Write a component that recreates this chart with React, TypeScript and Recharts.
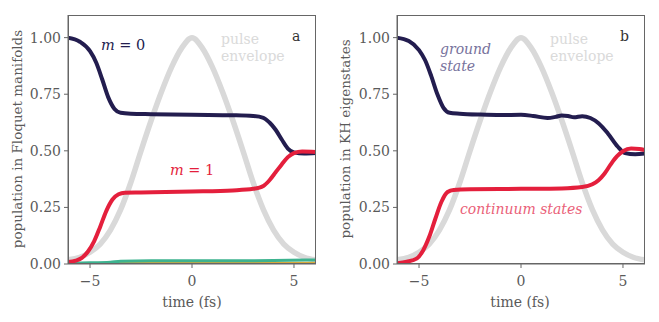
import React from 'react';
import { LineChart, Line, XAxis, YAxis } from 'recharts';

type Pt = [number, number];

// pulse envelope (same on both panels)
const envelope: Pt[] = [
  [-6.1, 0.018], [-5.5, 0.03], [-5, 0.052], [-4.5, 0.088], [-4, 0.15], [-3.5, 0.24],
  [-3, 0.36], [-2.5, 0.5], [-2, 0.635], [-1.5, 0.76], [-1, 0.87], [-0.5, 0.955], [0, 1.0],
  [0.5, 0.955], [1, 0.87], [1.5, 0.76], [2, 0.635], [2.5, 0.5], [3, 0.36], [3.5, 0.24],
  [4, 0.15], [4.5, 0.088], [5, 0.052], [5.5, 0.03], [6.1, 0.018],
];

// panel a: Floquet manifolds
const floquetM0: Pt[] = [
  [-6.1, 1.0], [-5.5, 0.982], [-5.0, 0.94], [-4.7, 0.89], [-4.4, 0.815], [-4.1, 0.735],
  [-3.8, 0.685], [-3.5, 0.668], [-3.0, 0.664], [-2, 0.662], [0, 0.659], [2, 0.657],
  [3.0, 0.654], [3.5, 0.646], [3.8, 0.625], [4.1, 0.593], [4.4, 0.55], [4.7, 0.51],
  [5.0, 0.493], [5.5, 0.488], [6.1, 0.49],
];
const floquetM1: Pt[] = [
  [-6.1, 0.008], [-5.7, 0.015], [-5.4, 0.027], [-5.1, 0.055], [-4.8, 0.1], [-4.5, 0.165],
  [-4.2, 0.235], [-3.9, 0.285], [-3.6, 0.308], [-3.3, 0.315], [-2.5, 0.316], [0, 0.32],
  [2, 0.325], [3.0, 0.332], [3.5, 0.345], [3.8, 0.37], [4.1, 0.405], [4.4, 0.44],
  [4.7, 0.472], [5.0, 0.49], [5.4, 0.497], [6.1, 0.495],
];
const floquetM2: Pt[] = [
  [-6.1, 0.004], [-5, 0.005], [-4, 0.008], [-3.5, 0.012], [-2, 0.014], [0, 0.014],
  [2, 0.014], [4, 0.015], [6.1, 0.018],
];
const floquetM3: Pt[] = [[-6.1, 0.003], [0, 0.003], [6.1, 0.004]];

// panel b: KH eigenstates
const groundState: Pt[] = [
  [-6.1, 1.0], [-5.5, 0.985], [-5.0, 0.945], [-4.7, 0.9], [-4.4, 0.83], [-4.1, 0.75],
  [-3.8, 0.69], [-3.5, 0.668], [-3.0, 0.664], [-2, 0.66], [-1, 0.658], [0, 0.659],
  [0.6, 0.654], [1.3, 0.645], [1.7, 0.65], [2.0, 0.656], [2.3, 0.654], [2.6, 0.648],
  [3.0, 0.653], [3.4, 0.645], [3.8, 0.622], [4.25, 0.578], [4.75, 0.518], [5.1, 0.49],
  [5.6, 0.485], [6.1, 0.489],
];
const continuumStates: Pt[] = [
  [-6.1, 0.003], [-5.6, 0.01], [-5.1, 0.025], [-4.8, 0.06], [-4.5, 0.12], [-4.2, 0.2],
  [-3.9, 0.275], [-3.6, 0.318], [-3.3, 0.327], [-2.5, 0.33], [0, 0.332], [2, 0.334],
  [3.0, 0.34], [3.5, 0.352], [3.8, 0.37], [4.1, 0.4], [4.4, 0.44], [4.7, 0.475],
  [5.0, 0.498], [5.4, 0.51], [5.8, 0.508], [6.1, 0.503],
];

const xTicks = [-5, 0, 5];
const yTicks = [0, 0.25, 0.5, 0.75, 1.0];

const FONT = '"DejaVu Serif", serif';
const NAVY = '#231d4f';
const RED = '#e41f3c';
const GREY = '#d9d9d9';
const AXIS = '#666';
const LABEL = '#5a5a5a';

const toRows = (pts: Pt[]) => pts.map(([t, v]) => ({ t, v }));

type Series = { data: Pt[]; color: string; width: number };

const tickStyle = { fill: LABEL, fontSize: 14, fontFamily: FONT };

const Panel = ({ series }: { series: Series[] }) => (
  <div style={{ position: 'relative', width: 330, height: 322, fontFamily: FONT }}>
    <LineChart width={330} height={322} margin={{ top: 15, right: 14, bottom: 18, left: 0 }} style={{ fontFamily: FONT }}>
      <XAxis
        dataKey="t"
        type="number"
        domain={[-6.08, 6.08]}
        allowDataOverflow
        ticks={xTicks}
        tickFormatter={(v: number) => (v < 0 ? `\u2212${-v}` : `${v}`)}
        height={40}
        stroke={AXIS}
        tickSize={4}
        tickMargin={8}
        tick={tickStyle}
      />
      <YAxis
        type="number"
        domain={[0, 1.1]}
        allowDataOverflow
        ticks={yTicks}
        tickFormatter={(v: number) => v.toFixed(2)}
        width={68}
        stroke={AXIS}
        tickSize={4}
        tickMargin={3}
        tick={tickStyle}
      />
      {series.map((s, i) => (
        <Line
          key={i}
          data={toRows(s.data)}
          dataKey="v"
          type="monotone"
          stroke={s.color}
          strokeWidth={s.width}
          dot={false}
          activeDot={false}
          isAnimationActive={false}
        />
      ))}
    </LineChart>
    {/* frame around the plot area */}
    <div style={{ position: 'absolute', left: 68, top: 15, width: 248, height: 249, boxSizing: 'border-box', border: `1px solid ${AXIS}`, pointerEvents: 'none' }} />
  </div>
);

const txt = (left: number, top: number, color: string, size: number, extra: React.CSSProperties = {}) =>
  ({
    position: 'absolute',
    left,
    top,
    color,
    fontSize: size,
    fontFamily: FONT,
    lineHeight: 1,
    whiteSpace: 'nowrap',
    transform: 'translateY(-50%)',
    ...extra,
  }) as React.CSSProperties;

const App = () => {
  const leftSeries: Series[] = [
    { data: envelope, color: GREY, width: 5.5 },
    { data: floquetM3, color: '#d9a93a', width: 2.5 },
    { data: floquetM2, color: '#3db38f', width: 3 },
    { data: floquetM0, color: NAVY, width: 4 },
    { data: floquetM1, color: RED, width: 4 },
  ];
  const rightSeries: Series[] = [
    { data: envelope, color: GREY, width: 5.5 },
    { data: groundState, color: NAVY, width: 4 },
    { data: continuumStates, color: RED, width: 4 },
  ];

  return (
    <div style={{ position: 'absolute', left: 0, top: 0, width: 659, height: 322, background: '#fff', fontFamily: FONT }}>
      <div style={{ position: 'absolute', left: 0, top: 0 }}>
        <Panel series={leftSeries} />
      </div>
      <div style={{ position: 'absolute', left: 329, top: 0 }}>
        <Panel series={rightSeries} />
      </div>

      {/* axis labels */}
      <div style={txt(18, 139, LABEL, 13.5, { transform: 'translate(-50%, -50%) rotate(-90deg)' })}>
        population in Floquet manifolds
      </div>
      <div style={txt(346, 139, LABEL, 13.5, { transform: 'translate(-50%, -50%) rotate(-90deg)' })}>
        population in KH eigenstates
      </div>
      <div style={txt(192, 302, LABEL, 14, { transform: 'translate(-50%, -50%)' })}>time (fs)</div>
      <div style={txt(520, 302, LABEL, 14, { transform: 'translate(-50%, -50%)' })}>time (fs)</div>

      {/* panel a annotations */}
      <div style={txt(101, 45, NAVY, 14.5)}>
        <i>m</i> = 0
      </div>
      <div style={txt(170, 170, RED, 14.5)}>
        <i>m</i> = 1
      </div>
      <div style={txt(221, 39, '#dadada', 14)}>pulse</div>
      <div style={txt(221, 56, '#dadada', 14)}>envelope</div>
      <div style={txt(292, 36, '#333', 14)}>a</div>

      {/* panel b annotations */}
      <div style={txt(440, 49, '#77729c', 14, { fontStyle: 'italic' })}>ground</div>
      <div style={txt(440, 66, '#77729c', 14, { fontStyle: 'italic' })}>state</div>
      <div style={txt(550, 39, '#dadada', 14)}>pulse</div>
      <div style={txt(550, 56, '#dadada', 14)}>envelope</div>
      <div style={txt(620, 36, '#333', 14)}>b</div>
      <div style={txt(460, 209, '#ea5f79', 14, { fontStyle: 'italic' })}>continuum states</div>
    </div>
  );
};

export default App;
